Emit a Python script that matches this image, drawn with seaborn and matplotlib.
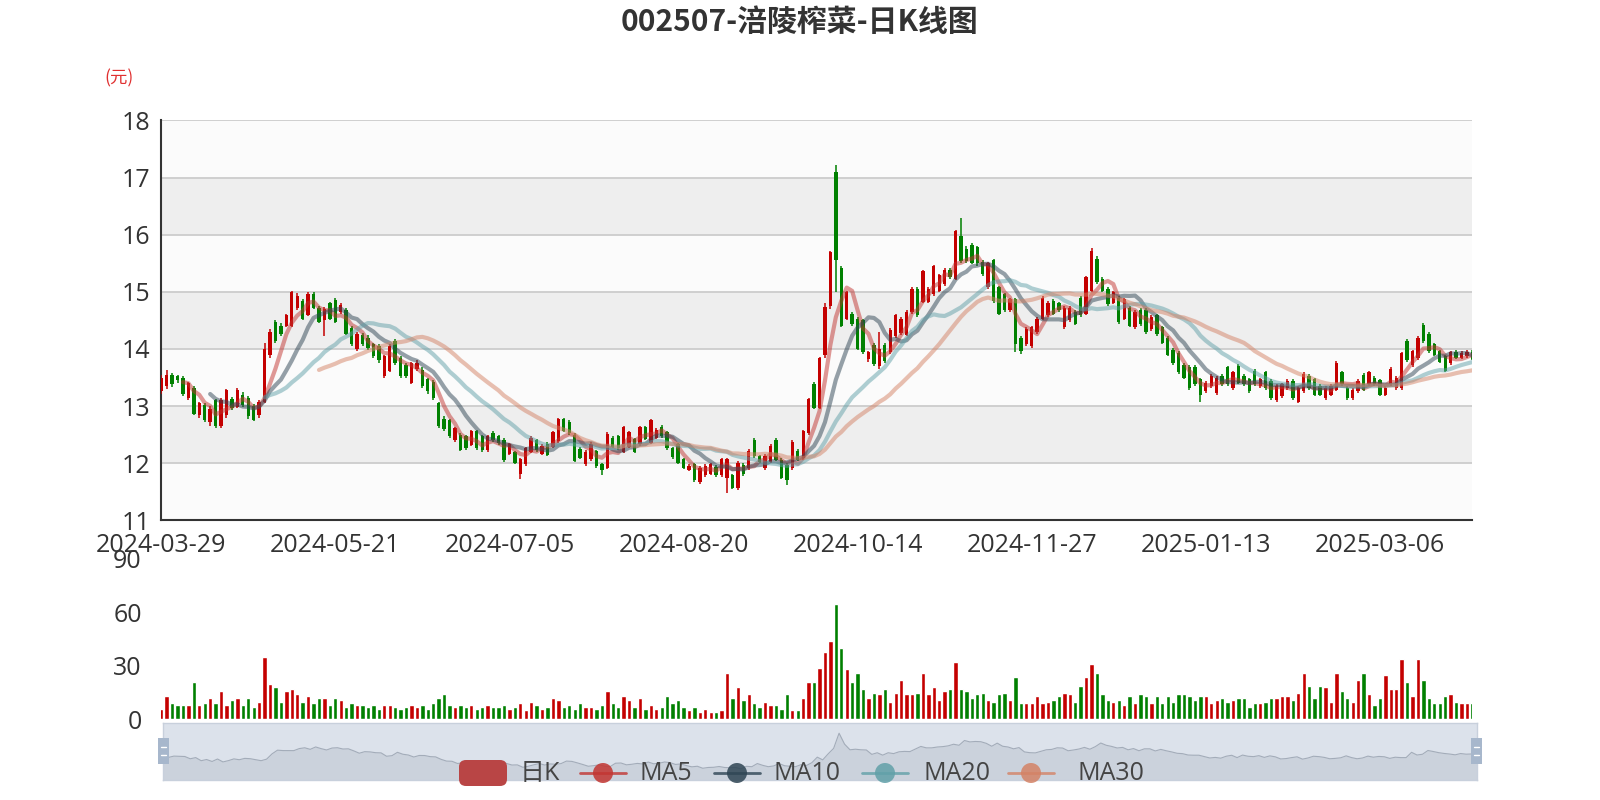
import numpy as np
import pandas as pd
import matplotlib
matplotlib.use("Agg")
import matplotlib.pyplot as plt
from matplotlib.patches import Rectangle, FancyBboxPatch, Circle
from matplotlib.lines import Line2D
import seaborn as sns

# ---- data (yuan, volume in axis units) ----
tick_pos = [0, 32, 64, 96, 128, 160, 192, 224]
tick_labels = ["2024-03-29", "2024-05-21", "2024-07-05", "2024-08-20",
               "2024-10-14", "2024-11-27", "2025-01-13", "2025-03-06"]

opens = [
    13.27, 13.35, 13.55, 13.52, 13.49, 13.14, 13.32, 12.84, 13.02, 12.72,
    13.10, 12.65, 12.85, 13.12, 12.99, 13.20, 13.15, 13.00, 12.84, 13.08,
    13.90, 14.47, 14.41, 14.41, 14.40, 14.72, 14.84, 14.60, 14.97, 14.71,
    14.50, 14.80, 14.85, 14.65, 14.68, 14.36, 14.00, 14.24, 14.20, 14.08,
    14.05, 13.53, 13.62, 14.14, 13.84, 13.72, 13.41, 13.65, 13.64, 13.47,
    13.43, 13.05, 12.78, 12.75, 12.41, 12.50, 12.47, 12.32, 12.56, 12.47,
    12.23, 12.53, 12.47, 12.41, 12.17, 12.19, 11.82, 11.98, 12.20, 12.40,
    12.17, 12.34, 12.29, 12.39, 12.78, 12.73, 12.50, 12.25, 11.98, 12.07,
    12.21, 11.98, 11.92, 12.45, 12.48, 12.20, 12.29, 12.42, 12.33, 12.63,
    12.36, 12.45, 12.64, 12.54, 12.26, 12.34, 12.08, 11.89, 11.98, 11.67,
    11.79, 11.82, 11.94, 11.79, 11.75, 11.79, 11.57, 11.97, 11.91, 12.40,
    12.12, 11.91, 12.03, 12.40, 12.06, 11.97, 11.91, 12.22, 12.09, 12.53,
    13.39, 12.97, 13.90, 14.75, 17.10, 15.41, 14.53, 14.62, 14.53, 14.50,
    13.82, 14.07, 13.70, 14.07, 13.94, 14.22, 14.28, 14.25, 14.65, 15.05,
    14.83, 14.83, 14.96, 15.02, 15.14, 15.39, 15.23, 15.97, 15.75, 15.82,
    15.78, 15.53, 15.08, 15.56, 15.08, 14.96, 14.68, 14.87, 14.20, 14.08,
    14.05, 14.29, 14.53, 14.59, 14.84, 14.80, 14.38, 14.50, 14.65, 14.90,
    14.62, 15.02, 15.58, 15.23, 15.05, 14.81, 14.90, 14.53, 14.72, 14.38,
    14.68, 14.68, 14.35, 14.59, 14.38, 14.20, 13.99, 13.93, 13.72, 13.69,
    13.69, 13.47, 13.26, 13.35, 13.23, 13.53, 13.68, 13.32, 13.71, 13.53,
    13.47, 13.62, 13.35, 13.59, 13.44, 13.11, 13.17, 13.32, 13.44, 13.08,
    13.26, 13.53, 13.47, 13.35, 13.14, 13.20, 13.29, 13.59, 13.32, 13.14,
    13.26, 13.55, 13.38, 13.50, 13.45, 13.20, 13.38, 13.32, 13.32, 14.14,
    13.72, 13.84, 14.42, 14.26, 14.08, 13.96, 13.87, 13.75, 13.95, 13.85,
    13.88, 13.95,
]
closes = [
    13.50, 13.55, 13.38, 13.45, 13.22, 13.40, 12.87, 13.05, 12.75, 12.95,
    12.65, 13.10, 13.28, 12.96, 13.29, 13.02, 12.82, 12.76, 13.08, 14.00,
    14.30, 14.14, 14.26, 14.59, 15.00, 14.93, 14.53, 14.97, 14.72, 14.47,
    14.70, 14.53, 14.47, 14.77, 14.26, 14.08, 14.26, 14.08, 14.02, 13.87,
    13.80, 13.87, 14.05, 13.75, 13.53, 13.53, 13.75, 13.76, 13.35, 13.26,
    13.14, 12.65, 12.60, 12.47, 12.61, 12.24, 12.26, 12.56, 12.26, 12.24,
    12.47, 12.41, 12.35, 12.05, 12.33, 12.01, 12.07, 12.26, 12.45, 12.23,
    12.31, 12.14, 12.54, 12.77, 12.57, 12.53, 12.04, 12.10, 12.20, 12.34,
    11.95, 11.89, 12.51, 12.29, 12.26, 12.64, 12.54, 12.20, 12.64, 12.42,
    12.75, 12.59, 12.48, 12.26, 12.11, 12.01, 11.92, 11.96, 11.70, 11.92,
    11.95, 11.98, 11.79, 12.08, 12.07, 11.57, 12.01, 11.81, 12.22, 12.13,
    12.03, 12.13, 12.31, 12.06, 11.75, 11.70, 12.38, 12.06, 12.56, 13.13,
    12.97, 13.84, 14.73, 15.69, 15.55, 14.40, 15.00, 14.44, 14.00, 13.95,
    13.94, 13.73, 14.00, 13.79, 14.34, 14.59, 14.53, 14.65, 15.05, 14.59,
    15.36, 15.05, 15.45, 15.29, 15.39, 15.26, 16.06, 15.54, 15.54, 15.51,
    15.50, 15.32, 15.50, 14.84, 14.62, 14.68, 14.87, 14.08, 13.96, 14.35,
    14.38, 14.53, 14.90, 14.81, 14.62, 14.68, 14.72, 14.72, 14.44, 14.59,
    15.26, 15.72, 15.17, 15.02, 14.78, 14.99, 14.47, 14.87, 14.41, 14.65,
    14.44, 14.29, 14.56, 14.26, 14.11, 13.90, 13.75, 13.60, 13.50, 13.32,
    13.38, 13.20, 13.41, 13.53, 13.50, 13.38, 13.38, 13.59, 13.41, 13.38,
    13.26, 13.38, 13.47, 13.32, 13.14, 13.35, 13.38, 13.44, 13.14, 13.32,
    13.56, 13.32, 13.20, 13.20, 13.32, 13.35, 13.76, 13.38, 13.14, 13.29,
    13.44, 13.29, 13.59, 13.38, 13.20, 13.32, 13.65, 13.50, 13.93, 13.81,
    13.96, 14.20, 14.14, 13.96, 13.90, 13.78, 13.62, 13.94, 13.85, 13.93,
    13.95, 13.82,
]
lows = [
    13.22, 13.30, 13.33, 13.40, 13.18, 13.10, 12.85, 12.80, 12.72, 12.65,
    12.62, 12.62, 12.80, 12.94, 12.96, 12.98, 12.78, 12.74, 12.80, 13.05,
    13.85, 14.10, 14.22, 14.38, 14.38, 14.68, 14.50, 14.58, 14.70, 14.45,
    14.23, 14.50, 14.45, 14.62, 14.24, 14.05, 13.97, 14.05, 13.98, 13.85,
    13.76, 13.50, 13.60, 13.72, 13.50, 13.50, 13.38, 13.62, 13.32, 13.22,
    13.10, 12.62, 12.56, 12.44, 12.38, 12.22, 12.24, 12.30, 12.24, 12.20,
    12.20, 12.38, 12.32, 12.02, 12.14, 11.98, 11.73, 11.95, 12.18, 12.20,
    12.14, 12.12, 12.26, 12.36, 12.55, 12.50, 12.02, 12.07, 11.95, 12.04,
    11.92, 11.80, 11.90, 12.26, 12.24, 12.18, 12.26, 12.18, 12.30, 12.40,
    12.34, 12.42, 12.45, 12.24, 12.08, 11.98, 11.90, 11.86, 11.67, 11.64,
    11.76, 11.80, 11.76, 11.76, 11.48, 11.55, 11.54, 11.78, 11.88, 12.10,
    12.00, 11.88, 12.00, 12.04, 11.72, 11.62, 11.88, 12.04, 12.06, 12.50,
    12.95, 12.95, 13.85, 14.70, 15.00, 14.38, 14.50, 14.40, 13.98, 13.92,
    13.78, 13.70, 13.65, 13.76, 13.92, 14.20, 14.25, 14.22, 14.62, 14.56,
    14.80, 14.80, 14.93, 15.00, 15.11, 15.23, 15.20, 15.50, 15.50, 15.48,
    15.45, 15.28, 15.05, 14.80, 14.60, 14.65, 14.65, 13.95, 13.92, 14.05,
    14.02, 14.26, 14.50, 14.56, 14.60, 14.65, 14.35, 14.47, 14.42, 14.56,
    14.60, 15.00, 15.14, 14.99, 14.75, 14.78, 14.44, 14.50, 14.38, 14.35,
    14.41, 14.26, 14.32, 14.23, 14.08, 13.87, 13.72, 13.57, 13.47, 13.29,
    13.35, 13.08, 13.23, 13.32, 13.20, 13.35, 13.35, 13.29, 13.38, 13.35,
    13.23, 13.35, 13.32, 13.29, 13.11, 13.08, 13.14, 13.29, 13.11, 13.05,
    13.23, 13.29, 13.17, 13.17, 13.11, 13.17, 13.26, 13.35, 13.11, 13.11,
    13.23, 13.26, 13.35, 13.35, 13.17, 13.17, 13.35, 13.29, 13.29, 13.78,
    13.69, 13.81, 14.11, 13.93, 13.87, 13.75, 13.59, 13.72, 13.82, 13.82,
    13.85, 13.80,
]
highs = [
    13.55, 13.64, 13.58, 13.55, 13.52, 13.43, 13.35, 13.08, 13.05, 13.00,
    13.12, 13.15, 13.30, 13.16, 13.32, 13.24, 13.18, 13.04, 13.10, 14.10,
    14.35, 14.50, 14.46, 14.62, 15.02, 14.98, 14.88, 15.00, 15.00, 14.75,
    14.74, 14.83, 14.90, 14.80, 14.72, 14.40, 14.30, 14.28, 14.24, 14.10,
    14.08, 13.90, 14.08, 14.18, 13.88, 13.75, 13.78, 13.80, 13.68, 13.50,
    13.46, 13.08, 12.82, 12.78, 12.64, 12.53, 12.50, 12.58, 12.58, 12.50,
    12.50, 12.56, 12.50, 12.44, 12.36, 12.22, 12.10, 12.28, 12.48, 12.43,
    12.34, 12.37, 12.56, 12.80, 12.80, 12.76, 12.53, 12.28, 12.23, 12.37,
    12.24, 12.00, 12.55, 12.48, 12.50, 12.66, 12.56, 12.45, 12.66, 12.65,
    12.78, 12.62, 12.67, 12.57, 12.28, 12.36, 12.10, 11.99, 12.01, 11.95,
    11.98, 12.00, 11.97, 12.10, 12.10, 11.82, 12.04, 12.00, 12.25, 12.44,
    12.15, 12.16, 12.34, 12.44, 12.09, 12.00, 12.40, 12.25, 12.58, 13.15,
    13.42, 13.86, 14.80, 15.72, 17.22, 15.45, 15.02, 14.65, 14.56, 14.52,
    13.97, 14.10, 14.30, 14.10, 14.36, 14.62, 14.56, 14.68, 15.08, 15.08,
    15.38, 15.08, 15.47, 15.32, 15.42, 15.42, 16.08, 16.29, 15.80, 15.85,
    15.80, 15.56, 15.53, 15.58, 15.10, 14.98, 14.90, 14.90, 14.22, 14.38,
    14.40, 14.56, 14.93, 14.84, 14.87, 14.83, 14.75, 14.75, 14.68, 14.93,
    15.28, 15.76, 15.62, 15.26, 15.08, 15.02, 14.93, 14.90, 14.75, 14.68,
    14.71, 14.71, 14.59, 14.62, 14.41, 14.23, 14.02, 13.96, 13.75, 13.72,
    13.72, 13.50, 13.44, 13.56, 13.53, 13.56, 13.71, 13.62, 13.74, 13.56,
    13.50, 13.65, 13.50, 13.62, 13.47, 13.38, 13.41, 13.47, 13.47, 13.35,
    13.59, 13.56, 13.50, 13.38, 13.35, 13.38, 13.79, 13.62, 13.35, 13.32,
    13.47, 13.58, 13.62, 13.53, 13.48, 13.35, 13.68, 13.53, 13.95, 14.17,
    13.99, 14.23, 14.45, 14.29, 14.11, 13.99, 13.90, 13.97, 13.98, 13.96,
    13.98, 13.98,
]
volumes = [
    6, 13, 9, 8, 8, 8, 21, 8, 9, 12,
    9, 16, 8, 11, 12, 8, 12, 7, 10, 35,
    20, 18, 10, 16, 17, 14, 10, 13, 9, 12,
    12, 8, 12, 11, 7, 9, 8, 8, 7, 8,
    6, 8, 8, 7, 6, 7, 8, 7, 8, 6,
    9, 12, 14, 8, 7, 8, 7, 8, 6, 7,
    8, 7, 7, 8, 6, 7, 9, 5, 10, 8,
    6, 7, 12, 11, 7, 8, 6, 9, 7, 7,
    6, 8, 16, 9, 7, 13, 11, 7, 12, 6,
    8, 6, 7, 13, 9, 11, 7, 5, 7, 4,
    6, 4, 4, 5, 26, 12, 18, 11, 14, 9,
    7, 10, 8, 8, 6, 14, 5, 5, 12, 21,
    21, 29, 38, 44, 65, 40, 28, 21, 26, 17,
    12, 15, 14, 17, 10, 15, 22, 14, 14, 15,
    26, 14, 18, 11, 16, 17, 32, 17, 16, 12,
    14, 15, 11, 10, 14, 15, 11, 24, 9, 9,
    9, 13, 9, 10, 11, 13, 15, 14, 10, 19,
    24, 31, 26, 14, 11, 10, 11, 8, 13, 9,
    14, 13, 9, 13, 9, 13, 10, 14, 14, 13,
    11, 13, 13, 9, 11, 12, 10, 11, 12, 12,
    7, 9, 9, 10, 12, 12, 13, 13, 11, 15,
    26, 19, 12, 19, 18, 10, 26, 16, 12, 10,
    22, 26, 14, 8, 12, 25, 17, 17, 34, 21,
    13, 34, 22, 12, 9, 9, 13, 14, 10, 9,
    9, 9,
]
ma_windows = [5, 10, 20, 30]

# ---- styling ----
UP, DOWN = "#c40000", "#008000"
MA_COLORS = ["#c23531", "#2f4554", "#61a0a8", "#d48265"]
TXT = "#333333"

sns.set_theme(style="white")
plt.rcParams["font.family"] = ["Open Sans", "Noto Sans CJK SC", "DejaVu Sans"]

n = len(closes)
df = pd.DataFrame({"idx": np.arange(n), "open": opens, "close": closes,
                   "low": lows, "high": highs, "volume": volumes})
df["dir"] = np.where(df["close"] >= df["open"], "up", "down")
for w in ma_windows:
    df[f"MA{w}"] = df["close"].rolling(w).mean()
colors = df["dir"].map({"up": UP, "down": DOWN}).tolist()

W, H = 1600, 800
def box(x0, y0, x1, y1):
    return [x0 / W, 1 - y1 / H, (x1 - x0) / W, (y1 - y0) / H]

fig = plt.figure(figsize=(16, 8), dpi=100)
fig.patch.set_facecolor("white")
ax = fig.add_axes(box(161.2, 120.4, 1472.4, 520.4))
axv = fig.add_axes(box(161.2, 559, 1472.4, 719.4))
axs = fig.add_axes(box(163, 722.5, 1477, 779.6))

# ---- price panel ----
for k, lo in enumerate(range(11, 18)):
    ax.axhspan(lo, lo + 1, color="#fbfbfb" if k % 2 == 0 else "#eeeeee", lw=0, zorder=0)
for v in range(12, 19):
    ax.axhline(v, color="#cccccc", lw=1.3, zorder=1)

ax.vlines(df["idx"], df["low"], df["high"], colors=colors, lw=1.1, zorder=3)
body = df["close"] - df["open"]
body = body.where(body.abs() > 0.015, 0.015)
ax.bar(df["idx"], body, bottom=df["open"], width=0.62, color=colors, lw=0, zorder=3)

for w, c in zip(ma_windows, MA_COLORS):
    sns.lineplot(data=df, x="idx", y=f"MA{w}", ax=ax, color=c, alpha=0.5,
                 lw=3, zorder=4, legend=False)

ax.set_xlim(0, n - 1)
ax.set_ylim(11, 18)
ax.set_yticks(range(11, 19))
ax.set_xticks(tick_pos)
ax.set_xticklabels(tick_labels)
ax.set_xticks([n - 1], minor=True)
ax.set_xlabel("")
ax.set_ylabel("")
for s in ["top", "right"]:
    ax.spines[s].set_visible(False)
for s in ["left", "bottom"]:
    ax.spines[s].set_color(TXT)
    ax.spines[s].set_linewidth(1.5)
ax.tick_params(axis="both", which="both", direction="out", length=6, width=1.5,
               color=TXT, labelsize=18, labelcolor=TXT, pad=3)
ax.tick_params(axis="y", pad=2)

# ---- volume panel ----
sns.barplot(data=df, x="idx", y="volume", hue="dir", palette={"up": UP, "down": DOWN},
            native_scale=True, dodge=False, width=0.8, saturation=1, errorbar=None,
            legend=False, ax=axv)
axv.set_xlim(0, n - 1)
axv.set_ylim(0, 90)
axv.set_yticks([0, 30, 60, 90])
axv.set_xticks([])
axv.set_xlabel("")
axv.set_ylabel("")
axv.set_facecolor("none")
for s in axv.spines.values():
    s.set_visible(False)
axv.tick_params(axis="y", length=0, labelsize=18, labelcolor=TXT, pad=14)

# ---- data-zoom slider ----
o = np.array(opens)
pad = (o.max() - o.min()) * 0.3
lo_s, hi_s = o.min() - pad, o.max() + pad
axs.set_facecolor("#dce2eb")
axs.fill_between(df["idx"], df["open"], lo_s, color="#cbd2dc", lw=0)
axs.plot(df["idx"], df["open"], color="#a3acb9", lw=0.8)
axs.set_xlim(0, n - 1)
axs.set_ylim(lo_s, hi_s)
axs.set_xticks([])
axs.set_yticks([])
for s in axs.spines.values():
    s.set_color("#c8d0dc")
    s.set_linewidth(1)

# ---- overlay: title, unit, legend, handles ----
ov = fig.add_axes([0, 0, 1, 1], zorder=10)
ov.set_xlim(0, W)
ov.set_ylim(H, 0)
ov.axis("off")
ov.patch.set_alpha(0)

ov.text(800, 22, "002507-涪陵榨菜-日K线图", ha="center", va="center", fontsize=21.5,
        fontweight="bold", color=TXT, family=["Noto Sans CJK SC", "DejaVu Sans"])
ov.text(119, 78, "(元)", ha="center", va="center", fontsize=12.5, color="#e03030",
        family=["Noto Sans CJK SC", "DejaVu Sans"])

for hx in (158, 1471):
    ov.add_patch(Rectangle((hx, 738), 11, 26, facecolor="#a7b7cc", edgecolor="none"))
    ov.plot([hx + 3, hx + 8], [747, 747], color="white", lw=1)
    ov.plot([hx + 3, hx + 8], [755, 755], color="white", lw=1)

ly = 773
ov.add_patch(FancyBboxPatch((459, 760), 48, 26, boxstyle="round,pad=0,rounding_size=7",
                            facecolor="#b94545", edgecolor="none"))
ov.text(520, ly, "日K", ha="left", va="center", fontsize=18, color="#444444")
legend_items = [("MA5", 580, 640), ("MA10", 714, 773), ("MA20", 862, 924), ("MA30", 1008, 1078)]
for (name, x0, tx), c in zip(legend_items, MA_COLORS):
    ov.add_line(Line2D([x0, x0 + 46], [ly, ly], color=c, lw=2, alpha=0.8))
    ov.add_patch(Circle((x0 + 23, ly), 10, facecolor=c, edgecolor="none", alpha=0.85))
    ov.text(tx, ly, name, ha="left", va="center", fontsize=18, color="#444444")

fig.savefig("out.png", dpi=100)
